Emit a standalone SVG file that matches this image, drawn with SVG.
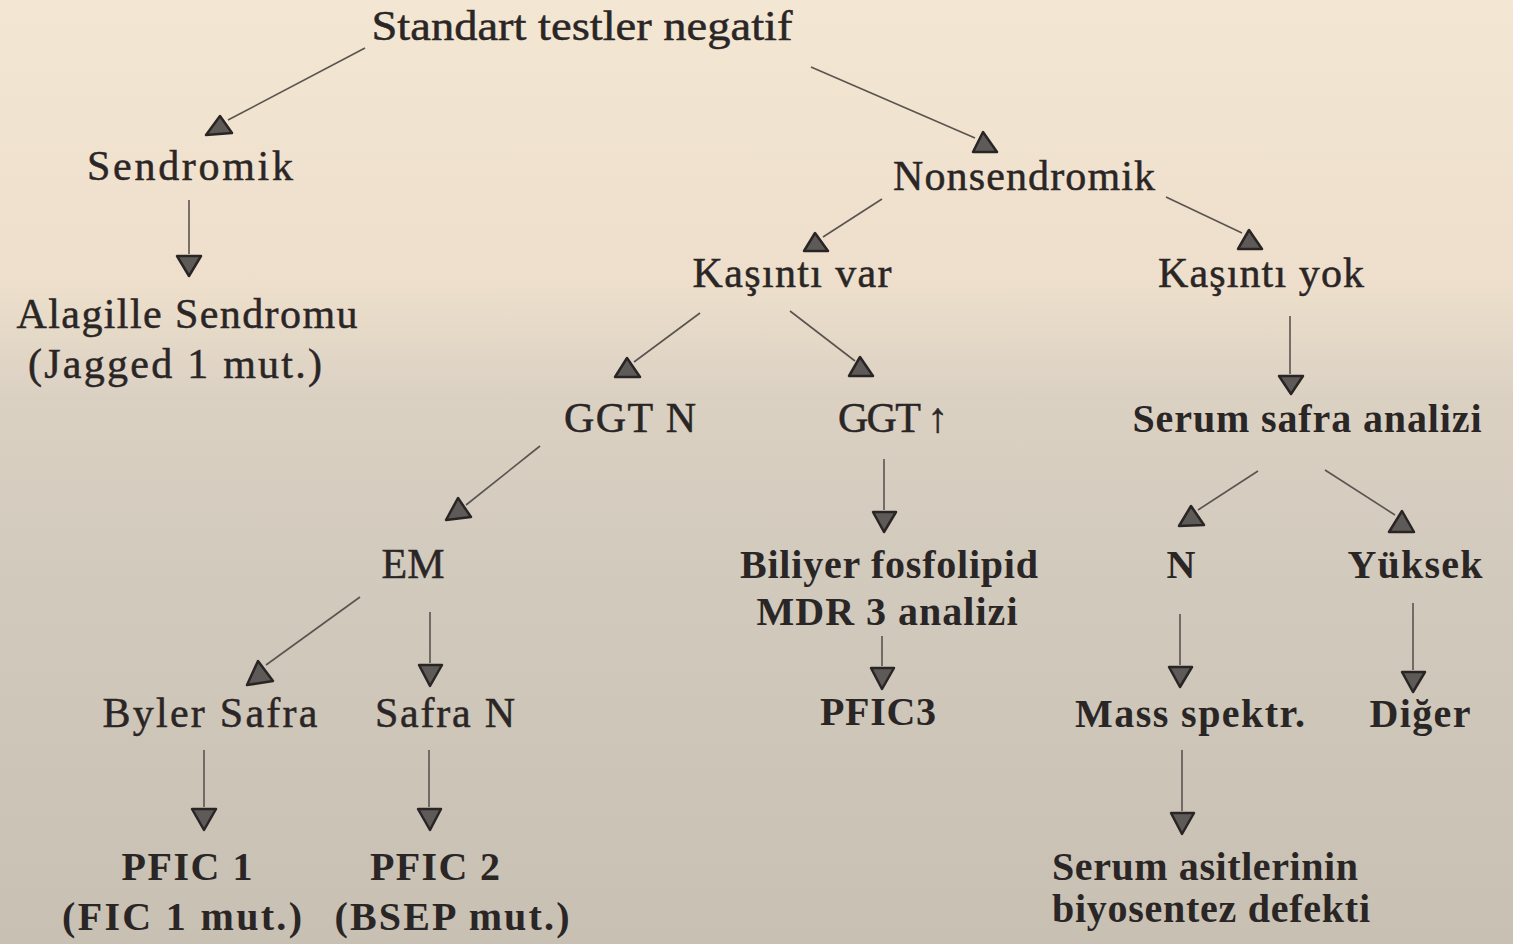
<svg xmlns="http://www.w3.org/2000/svg" width="1513" height="944" viewBox="0 0 1513 944">
<defs>
<linearGradient id="bg" x1="0" y1="0" x2="0" y2="1">
<stop offset="0" stop-color="#f3e6d2"/>
<stop offset="0.3" stop-color="#eddfcb"/>
<stop offset="0.42" stop-color="#dbd1c3"/>
<stop offset="0.6" stop-color="#d2cabd"/>
<stop offset="1" stop-color="#c8c0b3"/>
</linearGradient>
<style>
text{font-family:"Liberation Serif","Times New Roman",serif;font-size:42px;fill:#2b2626;text-anchor:middle;stroke:#2b2626;stroke-width:0.5;}
.b{font-weight:bold;stroke-width:0;font-size:40px;}
.ln{stroke:#5a5450;stroke-width:1.6;fill:none;}
.hd{fill:#5e5a58;stroke:#2a2525;stroke-width:2.5;stroke-linejoin:round;}
</style>
</defs>
<rect width="1513" height="944" fill="url(#bg)"/>
<g id="connectors">
<line class="ln" x1="365" y1="48" x2="228" y2="120"/>
<polygon class="hd" points="220,116 206,135 232,133"/>
<line class="ln" x1="811" y1="67" x2="975" y2="138"/>
<polygon class="hd" points="983,132 973,152 997,152"/>
<line class="ln" x1="882" y1="199" x2="823" y2="237"/>
<polygon class="hd" points="815,233 804,251 828,251"/>
<line class="ln" x1="1166" y1="197" x2="1242" y2="233"/>
<polygon class="hd" points="1249,230 1238,249 1262,249"/>
<line class="ln" x1="700" y1="313" x2="634" y2="362"/>
<polygon class="hd" points="627,358 615,377 640,377"/>
<line class="ln" x1="790" y1="311" x2="855" y2="361"/>
<polygon class="hd" points="860,357 849,376 873,376"/>
<line class="ln" x1="189" y1="200" x2="189" y2="254"/>
<polygon class="hd" points="177,256 201,256 189,276"/>
<line class="ln" x1="1290" y1="316" x2="1290" y2="374"/>
<polygon class="hd" points="1279,376 1303,376 1291,394"/>
<line class="ln" x1="540" y1="446" x2="466" y2="505"/>
<polygon class="hd" points="458,498 446,520 471,517"/>
<line class="ln" x1="884" y1="459" x2="884" y2="510"/>
<polygon class="hd" points="873,512 896,512 884,532"/>
<line class="ln" x1="1258" y1="471" x2="1198" y2="510"/>
<polygon class="hd" points="1191,506 1179,526 1204,525"/>
<line class="ln" x1="1325" y1="470" x2="1395" y2="515"/>
<polygon class="hd" points="1402,511 1389,532 1414,532"/>
<line class="ln" x1="360" y1="597" x2="266" y2="665"/>
<polygon class="hd" points="258,661 247,685 273,681"/>
<line class="ln" x1="430" y1="612" x2="430" y2="663"/>
<polygon class="hd" points="419,665 442,665 430,686"/>
<line class="ln" x1="882" y1="636" x2="882" y2="666"/>
<polygon class="hd" points="871,668 894,668 882,689"/>
<line class="ln" x1="1180" y1="614" x2="1180" y2="665"/>
<polygon class="hd" points="1169,667 1192,667 1180,687"/>
<line class="ln" x1="1413" y1="603" x2="1413" y2="670"/>
<polygon class="hd" points="1402,672 1425,672 1413,692"/>
<line class="ln" x1="204" y1="750" x2="204" y2="807"/>
<polygon class="hd" points="192,809 216,809 204,830"/>
<line class="ln" x1="429" y1="750" x2="429" y2="807"/>
<polygon class="hd" points="418,809 441,809 430,830"/>
<line class="ln" x1="1182" y1="750" x2="1182" y2="811"/>
<polygon class="hd" points="1171,813 1194,813 1182,834"/>
</g>
<g id="n-standart"><text x="582" y="40" font-size="46" textLength="421" lengthAdjust="spacingAndGlyphs">Standart testler negatif</text></g>
<g id="n-sendromik"><text x="190" y="180" textLength="206" lengthAdjust="spacing">Sendromik</text></g>
<g id="n-nonsendromik"><text x="1024" y="190" textLength="262" lengthAdjust="spacing">Nonsendromik</text></g>
<g id="n-alagille"><text x="187" y="328" textLength="341" lengthAdjust="spacing">Alagille Sendromu</text><text x="175" y="378" textLength="294" lengthAdjust="spacing">(Jagged 1 mut.)</text></g>
<g id="n-kasinti-var"><text x="792" y="287" textLength="199" lengthAdjust="spacing">Kaşıntı var</text></g>
<g id="n-kasinti-yok"><text x="1261" y="287" textLength="206" lengthAdjust="spacing">Kaşıntı yok</text></g>
<g id="n-ggtn"><text x="630" y="432" textLength="132" lengthAdjust="spacing">GGT N</text></g>
<g id="n-ggtup"><text x="893" y="432" textLength="110" lengthAdjust="spacing">GGT ↑</text></g>
<g id="n-serum-safra"><text class="b" x="1307" y="432" textLength="349" lengthAdjust="spacing">Serum safra analizi</text></g>
<g id="n-em"><text x="413" y="578">EM</text></g>
<g id="n-biliyer"><text class="b" x="889" y="578" textLength="298" lengthAdjust="spacing">Biliyer fosfolipid</text><text class="b" x="887" y="625" textLength="261" lengthAdjust="spacing">MDR 3 analizi</text></g>
<g id="n-n"><text class="b" x="1181" y="578">N</text></g>
<g id="n-yuksek"><text class="b" x="1415" y="578" textLength="135" lengthAdjust="spacing">Yüksek</text></g>
<g id="n-byler"><text x="210" y="727" textLength="215" lengthAdjust="spacing">Byler Safra</text></g>
<g id="n-safran"><text x="445" y="727" textLength="140" lengthAdjust="spacing">Safra N</text></g>
<g id="n-pfic3"><text class="b" x="878" y="725" textLength="116" lengthAdjust="spacing">PFIC3</text></g>
<g id="n-mass"><text class="b" x="1190" y="727" textLength="230" lengthAdjust="spacing">Mass spektr.</text></g>
<g id="n-diger"><text class="b" x="1420" y="727" textLength="101" lengthAdjust="spacing">Diğer</text></g>
<g id="n-pfic1"><text class="b" x="187" y="880" textLength="131" lengthAdjust="spacing">PFIC 1</text><text class="b" x="182" y="930" textLength="240" lengthAdjust="spacing">(FIC 1 mut.)</text></g>
<g id="n-pfic2"><text class="b" x="435" y="880" textLength="130" lengthAdjust="spacing">PFIC 2</text><text class="b" x="452" y="930" textLength="235" lengthAdjust="spacing">(BSEP mut.)</text></g>
<g id="n-serum-asit"><text class="b" x="1205" y="880" textLength="306" lengthAdjust="spacing">Serum asitlerinin</text><text class="b" x="1211" y="922" textLength="318" lengthAdjust="spacing">biyosentez defekti</text></g>
</svg>
